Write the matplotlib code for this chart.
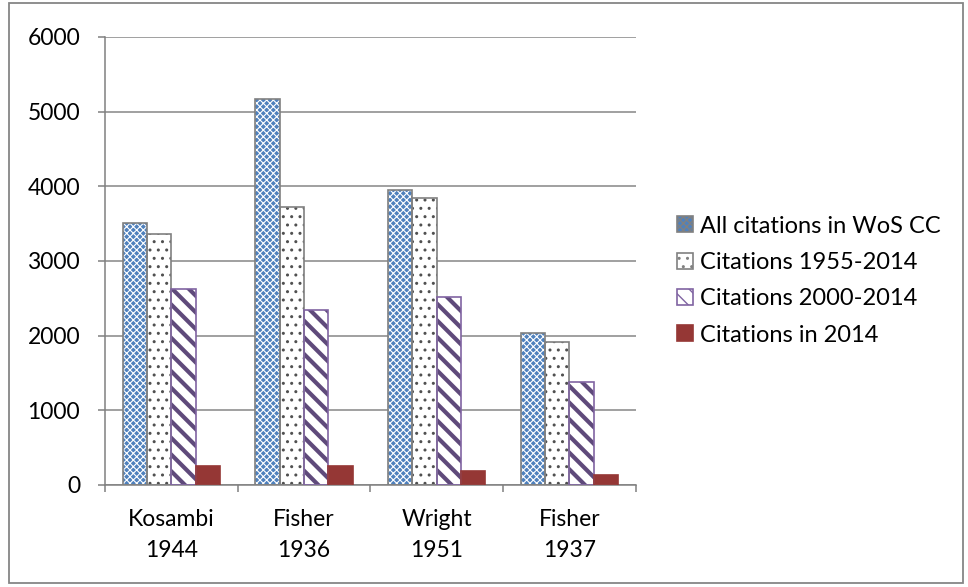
import numpy as np
import matplotlib.pyplot as plt
from matplotlib.patches import Rectangle

plt.rcParams['font.family'] = ['Lato', 'DejaVu Sans']

papers = ["Kosambi\n1944", "Fisher\n1936", "Wright\n1951", "Fisher\n1937"]
all_wos = [3510, 5170, 3950, 2040]
cit_1955_2014 = [3360, 3720, 3840, 1920]
cit_2000_2014 = [2620, 2350, 2520, 1380]
cit_2014 = [250, 250, 190, 140]
labels = ["All citations in WoS CC", "Citations 1955-2014",
          "Citations 2000-2014", "Citations in 2014"]

fig = plt.figure(figsize=(9.68, 5.87), dpi=100)
ax = fig.add_axes([0.1085, 0.1738, 0.5482, 0.7632])

x = np.arange(len(papers))
w = 0.183
grey = '#808080'

# (values, face, hatch, hatch colour, edge colour, hatch lw)
styles = [
    (all_wos, '#4f81bd', 'xxxxx', 'white', grey, 0.8),
    (cit_1955_2014, 'white', '..', '#505050', grey, 1.0),
    (cit_2000_2014, 'white', '\\\\', '#5f4a7b', '#8064a2', 3.0),
    (cit_2014, '#953735', None, '#953735', '#953735', 1.0),
]

handles = []
for i, (vals, face, hatch, hcol, ecol, hlw) in enumerate(styles):
    pos = x + (i - 1.5) * w
    with plt.rc_context({'hatch.linewidth': hlw}):
        ax.bar(pos, vals, w, color=face, edgecolor=hcol, hatch=hatch,
               linewidth=0, zorder=2)
        h = ax.bar([-5], [0], w, color=face, edgecolor=ecol, hatch=hatch,
                   linewidth=1.2)
    ax.bar(pos, vals, w, facecolor='none', edgecolor=ecol, linewidth=1.2,
           zorder=3)
    handles.append(h)

ax.set_xlim(-0.5, 3.5)
ax.set_ylim(0, 6000)
ax.set_yticks(np.arange(0, 6001, 1000))
ax.set_xticks(x)
ax.set_xticklabels(papers, fontsize=16.5, linespacing=1.6)
ax.set_xticks(np.arange(-0.5, 3.6, 1), minor=True)
ax.tick_params(axis='x', which='major', length=0, pad=17)
ax.tick_params(axis='x', which='minor', length=5, color=grey, width=1.1)
ax.tick_params(axis='y', length=5, color=grey, width=1.1, labelsize=16.5, pad=13)
ax.grid(axis='y', color='#868686', linewidth=1.1, zorder=0)
ax.set_axisbelow(True)
for s in ['top', 'right']:
    ax.spines[s].set_visible(False)
for s in ['left', 'bottom']:
    ax.spines[s].set_color(grey)
    ax.spines[s].set_linewidth(1.1)

fig.legend([hh[0] for hh in handles], labels, loc='center left',
           bbox_to_anchor=(0.699, 0.522), frameon=False, fontsize=17,
           handlelength=0.68, handleheight=0.68, handletextpad=0.3,
           labelspacing=0.65, borderpad=0, borderaxespad=0)

fig.patches.append(Rectangle((0.009, 0.007), 0.986, 0.988, transform=fig.transFigure,
                             fill=False, edgecolor='#868686', linewidth=1.3))

fig.savefig('out.png', dpi=100)
